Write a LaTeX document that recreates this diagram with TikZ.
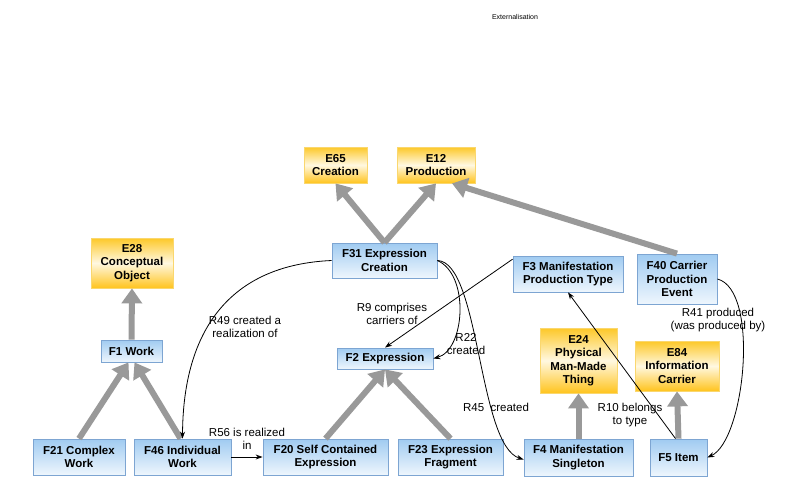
\documentclass[tikz,border=0pt]{standalone}
\usepackage{fontspec}
\setmainfont{Liberation Sans}
\usetikzlibrary{arrows.meta}
\definecolor{bluetop}{RGB}{160,203,241}
\definecolor{bluebot}{RGB}{238,246,253}
\definecolor{blueedge}{RGB}{125,165,210}
\definecolor{goldtop}{RGB}{253,200,40}
\definecolor{goldmid}{RGB}{255,248,225}
\definecolor{goldbot}{RGB}{255,196,30}
\definecolor{goldedge}{RGB}{250,215,110}
\definecolor{isagray}{RGB}{153,153,153}
\begin{document}
\begin{tikzpicture}[x=1pt,y=-1pt,
  boxfont/.style={font=\fontsize{11.5}{13.5}\selectfont\bfseries},
  fbox/.style={draw=blueedge,line width=0.8pt,top color=bluetop,bottom color=bluebot,align=center,boxfont,inner sep=1pt},
  ebox/.style={draw=goldedge,line width=0.8pt,top color=goldtop,bottom color=goldbot,middle color=goldmid,align=center,boxfont,inner sep=1pt},
  isa/.style={draw=isagray,line width=6pt,-{Triangle[width=20pt,length=15pt]}},
  rel/.style={draw=black,line width=0.8pt,-{Stealth[length=7pt,width=5pt]}},
  lbl/.style={align=center,font=\fontsize{11.5}{13.5}\selectfont,inner sep=0pt}]
\useasboundingbox (0,0) rectangle (800,500);

\node[font=\fontsize{7}{8}\selectfont] (title) at (515,17) {Externalisation};

% nodes
\node[ebox,minimum width=63pt,minimum height=36pt] (E65) at (335.5,165) {E65\\Creation};
\node[ebox,minimum width=78pt,minimum height=36pt] (E12) at (436,165) {E12\\Production};
\node[fbox,minimum width=105pt,minimum height=35pt] (F31) at (384.5,260.5) {F31 Expression\\Creation};
\node[ebox,minimum width=82pt,minimum height=50pt] (E28) at (132,263) {E28\\Conceptual\\Object};
\node[fbox,minimum width=61pt,minimum height=22pt] (F1) at (131.5,351) {F1 Work};
\node[fbox,minimum width=92pt,minimum height=36pt] (F21) at (79,457) {F21 Complex\\Work};
\node[fbox,minimum width=97pt,minimum height=36pt] (F46) at (182.5,457) {F46 Individual\\Work};
\node[fbox,minimum width=125pt,minimum height=36pt] (F20) at (325.5,457) {F20 Self Contained\\Expression};
\node[fbox,minimum width=105pt,minimum height=36pt] (F23) at (450.5,457) {F23 Expression\\Fragment};
\node[fbox,minimum width=96pt,minimum height=21pt] (F2) at (385,358.5) {F2 Expression};
\node[fbox,minimum width=110pt,minimum height=36pt] (F3) at (568,274) {F3 Manifestation\\Production Type};
\node[fbox,minimum width=80pt,minimum height=50pt] (F40) at (677,279) {F40 Carrier\\Production\\Event};
\node[ebox,minimum width=77pt,minimum height=65pt] (E24) at (578.5,360.5) {E24\\Physical\\Man-Made\\Thing};
\node[ebox,minimum width=84pt,minimum height=50pt] (E84) at (677,366) {E84\\Information\\Carrier};
\node[fbox,minimum width=109pt,minimum height=37pt] (F4) at (578.5,457.5) {F4 Manifestation\\Singleton};
\node[fbox,minimum width=57pt,minimum height=37pt] (F5) at (678.5,457.5) {F5 Item};

% is-a arrows
\draw[isa] (F31.north) -- (E65.south);
\draw[isa] (F31.north) -- (E12.south);
\draw[isa] (F40.north) -- ([xshift=16pt]E12.south);
\draw[isa] (F1.north) -- (E28.south);
\draw[isa] (F21.north) -- ([xshift=-3pt]F1.south);
\draw[isa] ([xshift=-2pt]F46.north) -- ([xshift=3pt]F1.south);
\draw[isa] (F20.north) -- (F2.south);
\draw[isa] (F23.north) -- (F2.south);
\draw[isa] (F4.north) -- (E24.south);
\draw[isa] (F5.north) -- (E84.south);

% relations
\draw[rel] (F31.west) .. controls (230,265) and (183,330) .. (F46.north);
\draw[rel] (F46.east) -- (F20.west);
\draw[rel] (F3.165) -- (F2.north);
\draw[rel] (F31.east) .. controls (470,275) and (465,350) .. (F2.east);
\draw[rel] (F31.east) .. controls (480,262) and (478,445) .. ([yshift=-2pt]F4.west);
\draw[rel] ([xshift=-3pt]F5.north) -- (F3.south);
\draw[rel] (F40.east) .. controls (760,290) and (745,440) .. (F5.east);

% labels
\node[lbl] (l49) at (245,327) {R49 created a\\realization of};
\node[lbl] (l56) at (247,439) {R56 is realized\\in};
\node[lbl] (l9) at (392,314) {R9 comprises\\carriers of};
\node[lbl] (l22) at (466,344) {R22\\created};
\node[lbl] (l45) at (496,407) {R45~ created};
\node[lbl] (l10) at (630,415) {R10 belongs\\to type};
\node[lbl] (l41) at (718,320) {R41 produced\\(was produced by)};
\end{tikzpicture}
\end{document}
